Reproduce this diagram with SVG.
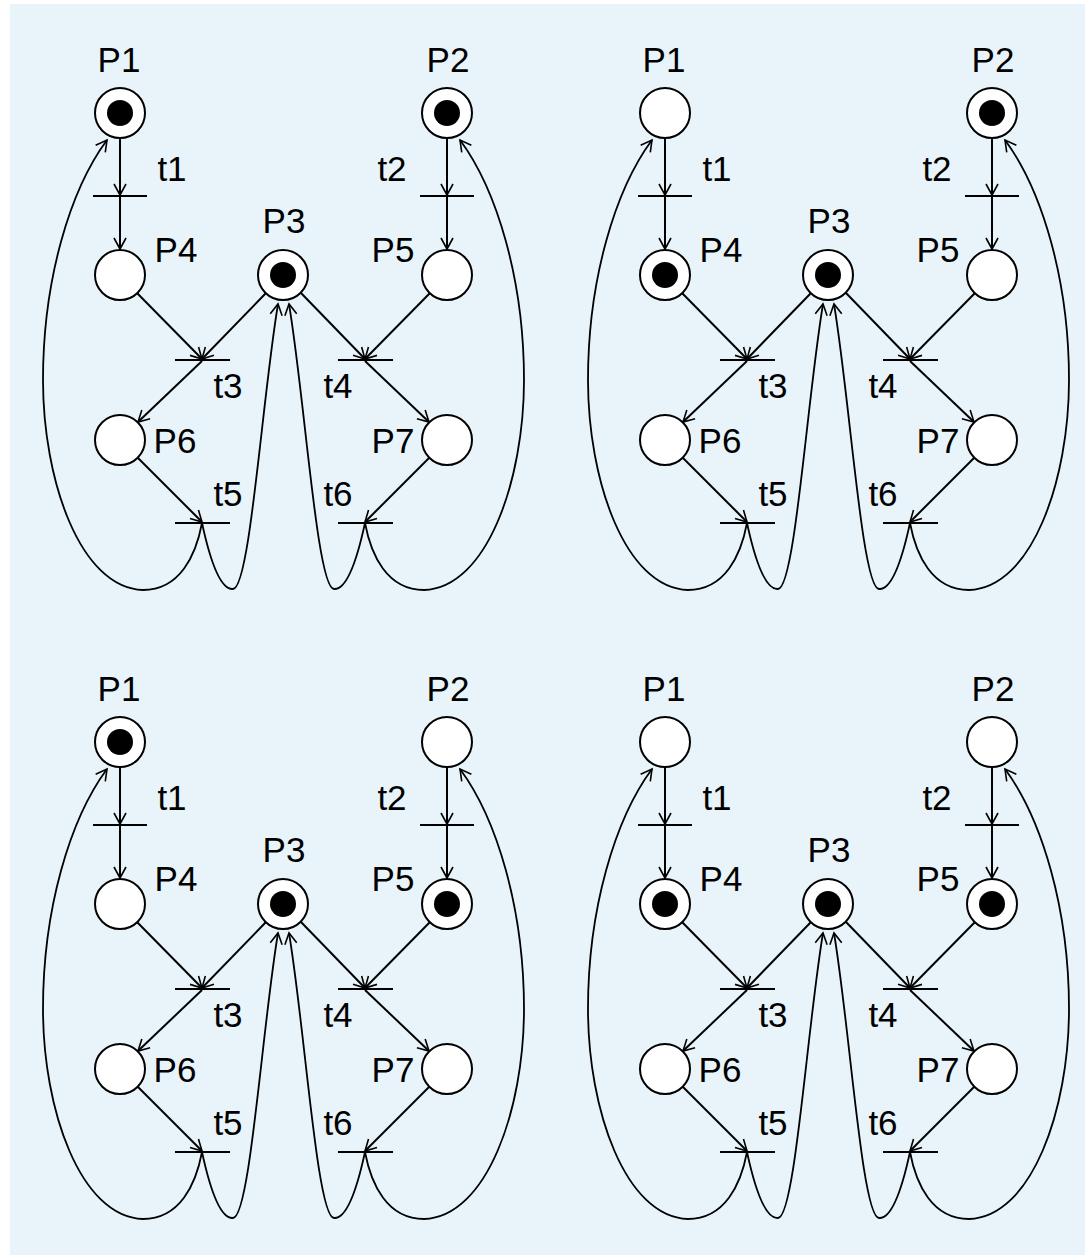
<svg xmlns="http://www.w3.org/2000/svg" width="1085" height="1255" viewBox="0 0 1085 1255">
  <style>
    .place { fill: #fff; stroke: #000; stroke-width: 2; }
    .token { fill: #000; }
    .bar { stroke: #000; stroke-width: 2; }
    .arc { fill: none; stroke: #000; stroke-width: 2; marker-end: url(#head); }
    .loop { fill: none; stroke: #000; stroke-width: 1.8; marker-end: url(#head); }
    .lbl { font-family: "Liberation Sans", Arial, sans-serif; font-size: 35px; fill: #000; text-anchor: middle; }
  </style>
  <defs>
    <marker id="head" markerUnits="userSpaceOnUse" markerWidth="16" markerHeight="16" refX="11" refY="6" orient="auto" overflow="visible">
      <path d="M0,0 L11,6 L0,12" fill="none" stroke="#000" stroke-width="1.6"/>
    </marker>
  </defs>

  <rect x="0" y="0" width="1085" height="1255" fill="#fff"/>
  <rect x="10" y="4" width="1075" height="1251" fill="#E8F4FA"/>

  <!-- ===== Net marking A (top left) ===== -->
  <g id="netA">
    <g id="netA-arcs">
      <path class="arc" d="M120,139 L120,195"/>
      <path class="arc" d="M120,197 L120,249"/>
      <path class="arc" d="M447,139 L447,195"/>
      <path class="arc" d="M447,197 L447,249"/>
      <path class="arc" d="M137,293 L202,359"/>
      <path class="arc" d="M266,293 L202,359"/>
      <path class="arc" d="M202,361 L138,422"/>
      <path class="arc" d="M301,293 L365,359"/>
      <path class="arc" d="M430,293 L365,359"/>
      <path class="arc" d="M365,361 L429,422"/>
      <path class="arc" d="M138,458 L202,522"/>
      <path class="arc" d="M429,458 L365,522"/>
      <path class="loop" d="M202,523 C196,555 180,590 143,590 C80,588 43,480 43,380 C43,280 70,190 107,140"/>
      <path class="loop" d="M202,523 C210,560 220,590 233,589 C250,588 262,400 278,304"/>
      <path class="loop" d="M365,523 C357,560 347,590 334,589 C317,588 305,400 289,304"/>
      <path class="loop" d="M365,523 C371,555 387,590 424,590 C487,588 524,480 524,380 C524,280 497,190 460,140"/>
    </g>
    <g id="netA-P1"><circle class="place" cx="120" cy="113" r="25"/><circle class="token" cx="120" cy="113" r="13"/><text class="lbl" x="119" y="72">P1</text></g>
    <g id="netA-P2"><circle class="place" cx="447" cy="113" r="25"/><circle class="token" cx="447" cy="113" r="13"/><text class="lbl" x="448" y="72">P2</text></g>
    <g id="netA-P3"><circle class="place" cx="283" cy="275" r="25"/><circle class="token" cx="283" cy="275" r="13"/><text class="lbl" x="284" y="233">P3</text></g>
    <g id="netA-P4"><circle class="place" cx="120" cy="275" r="25"/><text class="lbl" x="176" y="262">P4</text></g>
    <g id="netA-P5"><circle class="place" cx="447" cy="275" r="25"/><text class="lbl" x="393" y="262">P5</text></g>
    <g id="netA-P6"><circle class="place" cx="120" cy="440" r="25"/><text class="lbl" x="175" y="453">P6</text></g>
    <g id="netA-P7"><circle class="place" cx="447" cy="440" r="25"/><text class="lbl" x="393" y="453">P7</text></g>
    <g id="netA-t1"><line class="bar" x1="93" y1="196" x2="147" y2="196"/><text class="lbl" x="172" y="181">t1</text></g>
    <g id="netA-t2"><line class="bar" x1="420" y1="196" x2="474" y2="196"/><text class="lbl" x="392" y="181">t2</text></g>
    <g id="netA-t3"><line class="bar" x1="175" y1="360" x2="230" y2="360"/><text class="lbl" x="228" y="398">t3</text></g>
    <g id="netA-t4"><line class="bar" x1="338" y1="360" x2="393" y2="360"/><text class="lbl" x="338" y="398">t4</text></g>
    <g id="netA-t5"><line class="bar" x1="175" y1="523" x2="230" y2="523"/><text class="lbl" x="228" y="506">t5</text></g>
    <g id="netA-t6"><line class="bar" x1="338" y1="523" x2="393" y2="523"/><text class="lbl" x="338" y="506">t6</text></g>
  </g>

  <!-- ===== Net marking B (top right) ===== -->
  <g id="netB" transform="translate(545,0)">
    <g id="netB-arcs">
      <path class="arc" d="M120,139 L120,195"/>
      <path class="arc" d="M120,197 L120,249"/>
      <path class="arc" d="M447,139 L447,195"/>
      <path class="arc" d="M447,197 L447,249"/>
      <path class="arc" d="M137,293 L202,359"/>
      <path class="arc" d="M266,293 L202,359"/>
      <path class="arc" d="M202,361 L138,422"/>
      <path class="arc" d="M301,293 L365,359"/>
      <path class="arc" d="M430,293 L365,359"/>
      <path class="arc" d="M365,361 L429,422"/>
      <path class="arc" d="M138,458 L202,522"/>
      <path class="arc" d="M429,458 L365,522"/>
      <path class="loop" d="M202,523 C196,555 180,590 143,590 C80,588 43,480 43,380 C43,280 70,190 107,140"/>
      <path class="loop" d="M202,523 C210,560 220,590 233,589 C250,588 262,400 278,304"/>
      <path class="loop" d="M365,523 C357,560 347,590 334,589 C317,588 305,400 289,304"/>
      <path class="loop" d="M365,523 C371,555 387,590 424,590 C487,588 524,480 524,380 C524,280 497,190 460,140"/>
    </g>
    <g id="netB-P1"><circle class="place" cx="120" cy="113" r="25"/><text class="lbl" x="119" y="72">P1</text></g>
    <g id="netB-P2"><circle class="place" cx="447" cy="113" r="25"/><circle class="token" cx="447" cy="113" r="13"/><text class="lbl" x="448" y="72">P2</text></g>
    <g id="netB-P3"><circle class="place" cx="283" cy="275" r="25"/><circle class="token" cx="283" cy="275" r="13"/><text class="lbl" x="284" y="233">P3</text></g>
    <g id="netB-P4"><circle class="place" cx="120" cy="275" r="25"/><circle class="token" cx="120" cy="275" r="13"/><text class="lbl" x="176" y="262">P4</text></g>
    <g id="netB-P5"><circle class="place" cx="447" cy="275" r="25"/><text class="lbl" x="393" y="262">P5</text></g>
    <g id="netB-P6"><circle class="place" cx="120" cy="440" r="25"/><text class="lbl" x="175" y="453">P6</text></g>
    <g id="netB-P7"><circle class="place" cx="447" cy="440" r="25"/><text class="lbl" x="393" y="453">P7</text></g>
    <g id="netB-t1"><line class="bar" x1="93" y1="196" x2="147" y2="196"/><text class="lbl" x="172" y="181">t1</text></g>
    <g id="netB-t2"><line class="bar" x1="420" y1="196" x2="474" y2="196"/><text class="lbl" x="392" y="181">t2</text></g>
    <g id="netB-t3"><line class="bar" x1="175" y1="360" x2="230" y2="360"/><text class="lbl" x="228" y="398">t3</text></g>
    <g id="netB-t4"><line class="bar" x1="338" y1="360" x2="393" y2="360"/><text class="lbl" x="338" y="398">t4</text></g>
    <g id="netB-t5"><line class="bar" x1="175" y1="523" x2="230" y2="523"/><text class="lbl" x="228" y="506">t5</text></g>
    <g id="netB-t6"><line class="bar" x1="338" y1="523" x2="393" y2="523"/><text class="lbl" x="338" y="506">t6</text></g>
  </g>

  <!-- ===== Net marking C (bottom left) ===== -->
  <g id="netC" transform="translate(0,629)">
    <g id="netC-arcs">
      <path class="arc" d="M120,139 L120,195"/>
      <path class="arc" d="M120,197 L120,249"/>
      <path class="arc" d="M447,139 L447,195"/>
      <path class="arc" d="M447,197 L447,249"/>
      <path class="arc" d="M137,293 L202,359"/>
      <path class="arc" d="M266,293 L202,359"/>
      <path class="arc" d="M202,361 L138,422"/>
      <path class="arc" d="M301,293 L365,359"/>
      <path class="arc" d="M430,293 L365,359"/>
      <path class="arc" d="M365,361 L429,422"/>
      <path class="arc" d="M138,458 L202,522"/>
      <path class="arc" d="M429,458 L365,522"/>
      <path class="loop" d="M202,523 C196,555 180,590 143,590 C80,588 43,480 43,380 C43,280 70,190 107,140"/>
      <path class="loop" d="M202,523 C210,560 220,590 233,589 C250,588 262,400 278,304"/>
      <path class="loop" d="M365,523 C357,560 347,590 334,589 C317,588 305,400 289,304"/>
      <path class="loop" d="M365,523 C371,555 387,590 424,590 C487,588 524,480 524,380 C524,280 497,190 460,140"/>
    </g>
    <g id="netC-P1"><circle class="place" cx="120" cy="113" r="25"/><circle class="token" cx="120" cy="113" r="13"/><text class="lbl" x="119" y="72">P1</text></g>
    <g id="netC-P2"><circle class="place" cx="447" cy="113" r="25"/><text class="lbl" x="448" y="72">P2</text></g>
    <g id="netC-P3"><circle class="place" cx="283" cy="275" r="25"/><circle class="token" cx="283" cy="275" r="13"/><text class="lbl" x="284" y="233">P3</text></g>
    <g id="netC-P4"><circle class="place" cx="120" cy="275" r="25"/><text class="lbl" x="176" y="262">P4</text></g>
    <g id="netC-P5"><circle class="place" cx="447" cy="275" r="25"/><circle class="token" cx="447" cy="275" r="13"/><text class="lbl" x="393" y="262">P5</text></g>
    <g id="netC-P6"><circle class="place" cx="120" cy="440" r="25"/><text class="lbl" x="175" y="453">P6</text></g>
    <g id="netC-P7"><circle class="place" cx="447" cy="440" r="25"/><text class="lbl" x="393" y="453">P7</text></g>
    <g id="netC-t1"><line class="bar" x1="93" y1="196" x2="147" y2="196"/><text class="lbl" x="172" y="181">t1</text></g>
    <g id="netC-t2"><line class="bar" x1="420" y1="196" x2="474" y2="196"/><text class="lbl" x="392" y="181">t2</text></g>
    <g id="netC-t3"><line class="bar" x1="175" y1="360" x2="230" y2="360"/><text class="lbl" x="228" y="398">t3</text></g>
    <g id="netC-t4"><line class="bar" x1="338" y1="360" x2="393" y2="360"/><text class="lbl" x="338" y="398">t4</text></g>
    <g id="netC-t5"><line class="bar" x1="175" y1="523" x2="230" y2="523"/><text class="lbl" x="228" y="506">t5</text></g>
    <g id="netC-t6"><line class="bar" x1="338" y1="523" x2="393" y2="523"/><text class="lbl" x="338" y="506">t6</text></g>
  </g>

  <!-- ===== Net marking D (bottom right) ===== -->
  <g id="netD" transform="translate(545,629)">
    <g id="netD-arcs">
      <path class="arc" d="M120,139 L120,195"/>
      <path class="arc" d="M120,197 L120,249"/>
      <path class="arc" d="M447,139 L447,195"/>
      <path class="arc" d="M447,197 L447,249"/>
      <path class="arc" d="M137,293 L202,359"/>
      <path class="arc" d="M266,293 L202,359"/>
      <path class="arc" d="M202,361 L138,422"/>
      <path class="arc" d="M301,293 L365,359"/>
      <path class="arc" d="M430,293 L365,359"/>
      <path class="arc" d="M365,361 L429,422"/>
      <path class="arc" d="M138,458 L202,522"/>
      <path class="arc" d="M429,458 L365,522"/>
      <path class="loop" d="M202,523 C196,555 180,590 143,590 C80,588 43,480 43,380 C43,280 70,190 107,140"/>
      <path class="loop" d="M202,523 C210,560 220,590 233,589 C250,588 262,400 278,304"/>
      <path class="loop" d="M365,523 C357,560 347,590 334,589 C317,588 305,400 289,304"/>
      <path class="loop" d="M365,523 C371,555 387,590 424,590 C487,588 524,480 524,380 C524,280 497,190 460,140"/>
    </g>
    <g id="netD-P1"><circle class="place" cx="120" cy="113" r="25"/><text class="lbl" x="119" y="72">P1</text></g>
    <g id="netD-P2"><circle class="place" cx="447" cy="113" r="25"/><text class="lbl" x="448" y="72">P2</text></g>
    <g id="netD-P3"><circle class="place" cx="283" cy="275" r="25"/><circle class="token" cx="283" cy="275" r="13"/><text class="lbl" x="284" y="233">P3</text></g>
    <g id="netD-P4"><circle class="place" cx="120" cy="275" r="25"/><circle class="token" cx="120" cy="275" r="13"/><text class="lbl" x="176" y="262">P4</text></g>
    <g id="netD-P5"><circle class="place" cx="447" cy="275" r="25"/><circle class="token" cx="447" cy="275" r="13"/><text class="lbl" x="393" y="262">P5</text></g>
    <g id="netD-P6"><circle class="place" cx="120" cy="440" r="25"/><text class="lbl" x="175" y="453">P6</text></g>
    <g id="netD-P7"><circle class="place" cx="447" cy="440" r="25"/><text class="lbl" x="393" y="453">P7</text></g>
    <g id="netD-t1"><line class="bar" x1="93" y1="196" x2="147" y2="196"/><text class="lbl" x="172" y="181">t1</text></g>
    <g id="netD-t2"><line class="bar" x1="420" y1="196" x2="474" y2="196"/><text class="lbl" x="392" y="181">t2</text></g>
    <g id="netD-t3"><line class="bar" x1="175" y1="360" x2="230" y2="360"/><text class="lbl" x="228" y="398">t3</text></g>
    <g id="netD-t4"><line class="bar" x1="338" y1="360" x2="393" y2="360"/><text class="lbl" x="338" y="398">t4</text></g>
    <g id="netD-t5"><line class="bar" x1="175" y1="523" x2="230" y2="523"/><text class="lbl" x="228" y="506">t5</text></g>
    <g id="netD-t6"><line class="bar" x1="338" y1="523" x2="393" y2="523"/><text class="lbl" x="338" y="506">t6</text></g>
  </g>
</svg>
